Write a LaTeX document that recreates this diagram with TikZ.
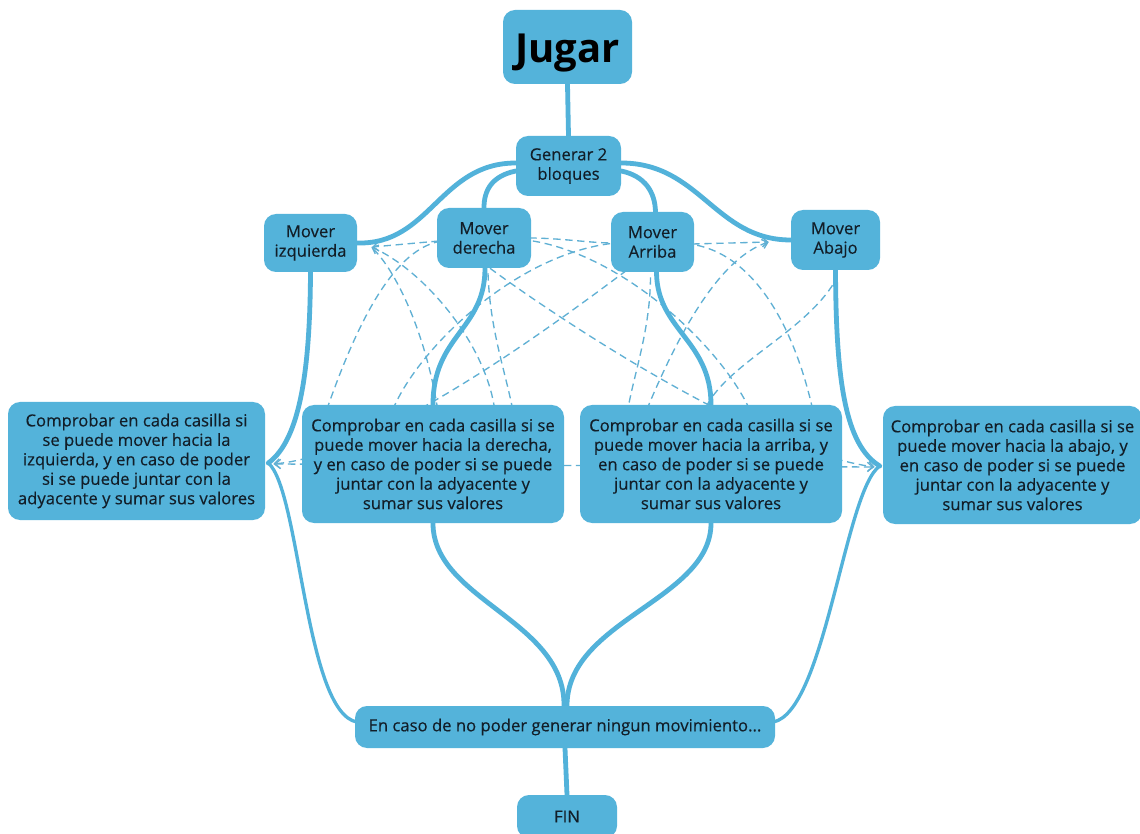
\documentclass[tikz,border=0pt]{standalone}
\usepackage{fontspec}
\setmainfont{Open Sans}
\newfontfamily\boxfont{Open Sans}[FakeBold=0.3]
\usetikzlibrary{arrows.meta,backgrounds,calc}
\definecolor{boxblue}{RGB}{84,179,218}
\definecolor{linkblue}{RGB}{82,178,218}
\definecolor{dashblue}{RGB}{96,176,212}
\definecolor{txt}{RGB}{18,30,40}
\begin{document}
\begin{tikzpicture}[x=0.75pt,y=-0.75pt,
  box/.style={fill=boxblue, rounded corners=9pt, inner sep=0pt, align=center, text=txt, font=\boxfont\fontsize{12.5}{14.6}\selectfont},
  link/.style={draw=linkblue, line width=3.6pt, line cap=round},
  thinlink/.style={draw=linkblue, line width=2.5pt, line cap=round},
  dlink/.style={draw=dashblue, line width=1pt, dash pattern=on 5.5pt off 3.5pt},
  arrowend/.style={-{Straight Barb[length=4pt,width=7pt,line width=1pt]}},
  arrowboth/.style={{Straight Barb[length=4pt,width=7pt,line width=1pt]}-{Straight Barb[length=4pt,width=7pt,line width=1pt]}},
]
\useasboundingbox (0,0) rectangle (1140,834);

% nodes
\node[box, minimum width=96.75pt, minimum height=55.5pt, font=\fontsize{30}{32}\selectfont\bfseries, text=black] (jugar) at (567.5,47) {\raisebox{-12pt}[0pt][0pt]{Jugar}};
\node[box, minimum width=78.75pt, minimum height=45pt] (gen) at (568.5,166) {Generar 2\\bloques};
\node[box, minimum width=69.75pt, minimum height=43.5pt] (mizq) at (310.5,243) {Mover\\izquierda};
\node[box, minimum width=70.5pt, minimum height=45pt] (mder) at (484,238) {Mover\\derecha};
\node[box, minimum width=62.25pt, minimum height=45pt] (marr) at (652.5,242) {Mover\\Arriba};
\node[box, minimum width=66.75pt, minimum height=45pt] (mab) at (835.5,240) {Mover\\Abajo};
\node[box, minimum width=192.75pt, minimum height=88.5pt] (cizq) at (136.5,461) {Comprobar en cada casilla si\\se puede mover hacia la\\izquierda, y en caso de poder\\si se puede juntar con la\\adyacente y sumar sus valores};
\node[box, minimum width=196.5pt, minimum height=88.5pt] (cder) at (433,464) {Comprobar en cada casilla si se\\puede mover hacia la derecha,\\y en caso de poder si se puede\\juntar con la adyacente y\\sumar sus valores};
\node[box, minimum width=196.5pt, minimum height=88.5pt] (carr) at (711,464) {Comprobar en cada casilla si se\\puede mover hacia la arriba, y\\en caso de poder si se puede\\juntar con la adyacente y\\sumar sus valores};
\node[box, minimum width=194.25pt, minimum height=88.5pt] (cab) at (1012.5,465) {Comprobar en cada casilla si se\\puede mover hacia la abajo, y\\en caso de poder si se puede\\juntar con la adyacente y\\sumar sus valores};
\node[box, minimum width=315pt, minimum height=31.5pt] (encaso) at (565,727) {En caso de no poder generar ningun movimiento...};
\node[box, minimum width=75pt, minimum height=32.25pt] (fin) at (567,816.5) {FIN};

\coordinate (jl) at ($(cizq.east)+(3,2)$);
\coordinate (jr) at ($(cab.west)+(-3,1)$);

\begin{scope}[on background layer]
\fill[white] (0,0) rectangle (1140,834);
% dashed connections
\draw[dlink] ($(cder.north west)+(25,5)$) .. controls (358,320) and (395,248) .. ($(mder.west)+(5,3)$);
\draw[dlink] ($(cder.north west)+(91,5)$) .. controls (420,345) and (520,252) .. ($(marr.west)+(5,1)$);
\draw[dlink,arrowend] ($(marr.south west)+(16,-2)$) .. controls (560,320) and (380,455) .. ($(jl)+(5,1)$);
\draw[dlink,arrowend] ($(cder.north west)+(193,5)$) .. controls (485,340) and (420,268) .. ($(mizq.east)+(14,4)$);
\draw[dlink] ($(mizq.east)+(16,6)$) .. controls (395,270) and (425,330) .. ($(cder.north west)+(136,5)$);
\draw[dlink] ($(carr.north west)+(233,5)$) .. controls (795,330) and (755,252) .. ($(marr.east)+(-5,2)$);
\draw[dlink] ($(carr.north west)+(170,5)$) .. controls (720,345) and (620,252) .. ($(mder.east)+(-5,2)$);
\draw[dlink,arrowend] ($(carr.north west)+(67,5)$) .. controls (680,330) and (720,258) .. ($(mab.west)+(-22,2)$);
\draw[dlink] ($(mab.south)+(-3,15)$) .. controls (800,335) and (725,365) .. ($(carr.north west)+(125,5)$);
\draw[dlink,arrowend] ($(mder.south)+(6,0)$) .. controls (560,320) and (760,452) .. ($(jr)+(-5,1)$);
\draw[dlink,arrowboth] ($(jl)+(6,1)$) -- ($(jr)+(-6,1)$);
\draw[dlink,arrowend] ($(mder.west)+(2,3)$) -- ($(mizq.east)+(15,4)$);
\draw[dlink,arrowend] ($(marr.east)+(-2,2)$) -- ($(mab.west)+(-22,2)$);
\draw[dlink] ($(mder.east)+(-2,0)$) .. controls (560,238) and (590,243) .. ($(marr.west)+(2,1)$);
\draw[dlink] ($(mder.south)+(4,5)$) .. controls (490,330) and (505,370) .. ($(cder.north west)+(211,5)$);
\draw[dlink] ($(marr.south)+(-2,5)$) .. controls (650,330) and (635,370) .. ($(carr.north west)+(48,5)$);
% solid connections
\draw[link] (jugar.south) -- (gen.north);
\draw[link] ($(gen.west)+(0,-3)$) .. controls (440,163) and (430,245) .. (mizq.east);
\draw[link] ($(gen.west)+(0,5)$) .. controls (492,176) and (484,190) .. (mder.north);
\draw[link] ($(gen.east)+(0,5)$) .. controls (645,176) and (655,192) .. ($(marr.north)+(3,0)$);
\draw[link] ($(gen.east)+(0,-3)$) .. controls (700,163) and (715,240) .. (mab.west);
\draw[link] (mizq.south) .. controls (310,370) and (300,440) .. (jl);
\draw[link] ($(mder.south)+(1,0)$) .. controls (485,330) and (433,335) .. (cder.north);
\draw[link] ($(marr.south)+(4,0)$) .. controls (657,330) and (711,340) .. (carr.north);
\draw[link] (mab.south) .. controls (836,380) and (845,445) .. (jr);
\draw[thinlink] (jl) .. controls (300,490) and (305,712) .. ($(encaso.west)+(2,-5)$);
\draw[thinlink] (jr) .. controls (845,490) and (825,712) .. ($(encaso.east)+(-2,-5)$);
\draw[link] (cder.south) .. controls (433,600) and (565,620) .. ($(encaso.north)+(-1,0)$);
\draw[link] (carr.south) .. controls (711,600) and (567,620) .. ($(encaso.north)+(2,0)$);
\draw[link] (encaso.south) -- (fin.north);
\end{scope}
\end{tikzpicture}
\end{document}
